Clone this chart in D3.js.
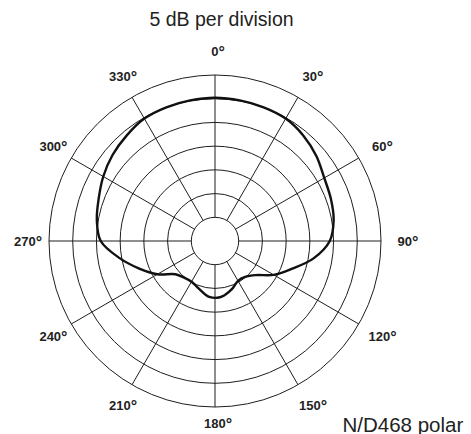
<!DOCTYPE html>
<html>
<head>
<meta charset="utf-8">
<script src="https://cdn.jsdelivr.net/npm/d3@7"></script>
<style>
  html, body { margin: 0; padding: 0; background: #fff; }
  svg { display: block; }
</style>
</head>
<body>
<svg id="chart" width="471" height="434"></svg>
<script>
// ---- data ----
const angleDeg = [0,10,20,30,40,50,60,70,80,90,100,110,120,130,140,150,160,170,175,
                  180,185,190,200,210,220,230,240,250,260,270,280,290,300,310,320,330,340,350];
const responseDb = [0.2,0.1,0.0,-0.2,-1.0,-2.1,-3.4,-4.0,-4.6,-5.8,-8.9,-12.8,-15.7,-18.8,-20.1,-20.3,-19.3,-18.4,-18.1,
                    -18.0,-18.1,-18.5,-19.5,-20.1,-19.9,-19.1,-16.0,-13.0,-9.5,-5.9,-4.7,-3.9,-2.8,-1.8,-1.0,-0.2,0.0,0.1];
const ringDb = [-25,-20,-15,-10,-5,0,5];
const spokeDeg = [0,30,60,90,120,150,180,210,240,270,300,330];
const spokeLabels = ["0°","30°","60°","90°","120°","150°","180°","210°","240°","270°","300°","330°"];
const titleText = "5 dB per division";
const captionText = "N/D468 polar";

// ---- layout ----
const svg = d3.select("#chart");
const W = 471, H = 434;
const cx = 215, cy = 241, R = 166;
const r = d3.scaleLinear().domain([-30, 5]).range([0, R]);
const a = d3.scaleLinear().domain([0, 360]).range([0, 2 * Math.PI]);

const g = svg.append("g").attr("transform", `translate(${cx},${cy})`);

// rings
g.selectAll("circle.ring").data(ringDb).enter().append("circle")
  .attr("class", "ring")
  .attr("r", d => r(d))
  .attr("fill", "none")
  .attr("stroke", "#1e1e1e")
  .attr("stroke-width", 1);

// spokes (from inner ring to outer ring)
const rIn = r(ringDb[0]), rOut = r(ringDb[ringDb.length - 1]);
g.selectAll("line.spoke").data(spokeDeg).enter().append("line")
  .attr("class", "spoke")
  .attr("x1", d => rIn * Math.sin(a(d)))
  .attr("y1", d => -rIn * Math.cos(a(d)))
  .attr("x2", d => rOut * Math.sin(a(d)))
  .attr("y2", d => -rOut * Math.cos(a(d)))
  .attr("stroke", "#1e1e1e")
  .attr("stroke-width", 1);

// response curve
const pts = angleDeg.map((d, i) => [a(d), r(responseDb[i])]);
const line = d3.lineRadial().curve(d3.curveCatmullRomClosed.alpha(0.5));
g.append("path")
  .attr("d", line(pts))
  .attr("fill", "none")
  .attr("stroke", "#111")
  .attr("stroke-width", 2.4);

// angle labels
const labelR = 190;
spokeDeg.forEach((d, i) => {
  const x = labelR * Math.sin(a(d)) + 3;
  let y = -labelR * Math.cos(a(d)) + 4.8;
  y = Math.min(y, H - 5.6 - cy);
  const label = spokeLabels[i];
  const t = g.append("text")
    .attr("x", x).attr("y", y)
    .attr("text-anchor", "middle")
    .attr("font-family", "Liberation Sans, Arial, sans-serif")
    .attr("font-weight", "bold")
    .attr("font-size", 13)
    .attr("fill", "#222");
  t.append("tspan").text(label.slice(0, -1));
  t.append("tspan").attr("font-size", 16).attr("dy", 2).text(label.slice(-1));
});

// title
svg.append("text")
  .attr("x", 221.5).attr("y", 26)
  .attr("text-anchor", "middle")
  .attr("font-family", "Liberation Sans, Arial, sans-serif")
  .attr("font-size", 19.5)
  .attr("fill", "#222")
  .text(titleText);

// caption
svg.append("text")
  .attr("x", 342.5).attr("y", 431.5)
  .attr("font-family", "Liberation Sans, Arial, sans-serif")
  .attr("font-size", 20.5)
  .attr("fill", "#222")
  .text(captionText);
</script>
</body>
</html>
